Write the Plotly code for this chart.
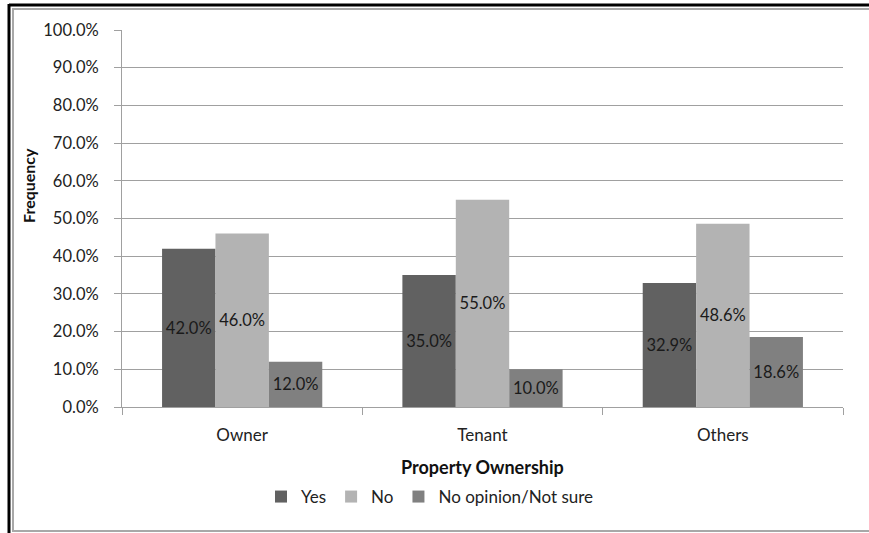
"""
Property ownership vs. opinion - grouped bar chart
"""
import plotly.graph_objects as go

categories = ["Owner", "Tenant", "Others"]
yes_vals = [0.420, 0.350, 0.329]
no_vals = [0.460, 0.550, 0.486]
unsure_vals = [0.120, 0.100, 0.186]
series_names = ["Yes", "No", "No opinion/Not sure"]
y_ticks = [0.0, 0.1, 0.2, 0.3, 0.4, 0.5, 0.6, 0.7, 0.8, 0.9, 1.0]

FONT = "Lato, 'Open Sans', sans-serif"

# Excel style grays
colors = ["#616161", "#b3b3b3", "#808080"]

W, H = 869, 533
L, R, T, B = 122, 26, 30, 126
pw, ph = W - L - R, H - T - B


def px_x(x):
    return (x - L) / pw


def px_y(y):
    return (H - B - y) / ph


fig = go.Figure()

for name, vals, col in zip(series_names, [yes_vals, no_vals, unsure_vals], colors):
    fig.add_trace(go.Bar(
        name=name,
        x=categories,
        y=vals,
        marker=dict(color=col, line=dict(width=0)),
        texttemplate='%{y:.1%}',
        textposition='inside',
        insidetextanchor='middle',
        textangle=0,
        textfont=dict(color="#1a1a1a", size=16.5, family=FONT),
    ))

fig.update_layout(
    width=W, height=H,
    margin=dict(l=L, r=R, t=T, b=B),
    paper_bgcolor="white",
    plot_bgcolor="white",
    barmode='group',
    bargap=1 / 3,
    bargroupgap=0,
    font=dict(family=FONT, color="#222222"),
    showlegend=True,
    legend=dict(
        orientation="h",
        x=px_x(430), xanchor="center",
        y=px_y(497), yanchor="middle",
        font=dict(size=17, family=FONT),
        itemwidth=30,
        traceorder="normal",
    ),
    xaxis=dict(
        type='category',
        showline=True, linecolor="#a0a0a0", linewidth=1,
        ticks="outside", tickson="boundaries", ticklen=7, tickcolor="#a0a0a0",
        tickfont=dict(size=17, family=FONT),
        ticklabelstandoff=13,
        showgrid=False,
    ),
    yaxis=dict(
        range=[0, 1],
        tickvals=y_ticks,
        tickformat=".1%",
        showline=True, linecolor="#a0a0a0", linewidth=1,
        ticks="outside", ticklen=7, tickcolor="#a0a0a0",
        tickfont=dict(size=16.5, family=FONT),
        ticklabelstandoff=12,
        showgrid=True, gridcolor="#a0a0a0", gridwidth=1,
        zeroline=False,
    ),
)

# axis titles
fig.add_annotation(
    text="<b>Frequency</b>", textangle=-90,
    xref="paper", yref="paper", x=px_x(28), y=px_y(186),
    xanchor="center", yanchor="middle",
    showarrow=False, font=dict(size=16, family=FONT, color="#111111"),
)
fig.add_annotation(
    text="<b>Property Ownership</b>",
    xref="paper", yref="paper", x=px_x(482), y=px_y(467),
    xanchor="center", yanchor="middle",
    showarrow=False, font=dict(size=18, family=FONT, color="#111111"),
)

# frame: black outer lines (top/left) and gray inner box
fig.add_shape(type="line", xref="paper", yref="paper",
              x0=px_x(9), x1=px_x(W + 5), y0=px_y(5), y1=px_y(5),
              line=dict(color="black", width=3))
fig.add_shape(type="line", xref="paper", yref="paper",
              x0=px_x(9), x1=px_x(9), y0=px_y(4), y1=px_y(H + 5),
              line=dict(color="black", width=3))
fig.add_shape(type="rect", xref="paper", yref="paper",
              x0=px_x(13), x1=px_x(W + 5), y0=px_y(9), y1=px_y(531),
              line=dict(color="#a8a8a8", width=2), fillcolor="rgba(0,0,0,0)")

# page body has a default 8px margin, drop it so the figure sits at 0,0
fig.write_html("out.html", config={"displayModeBar": False},
               post_script="document.body.style.margin='0';")
